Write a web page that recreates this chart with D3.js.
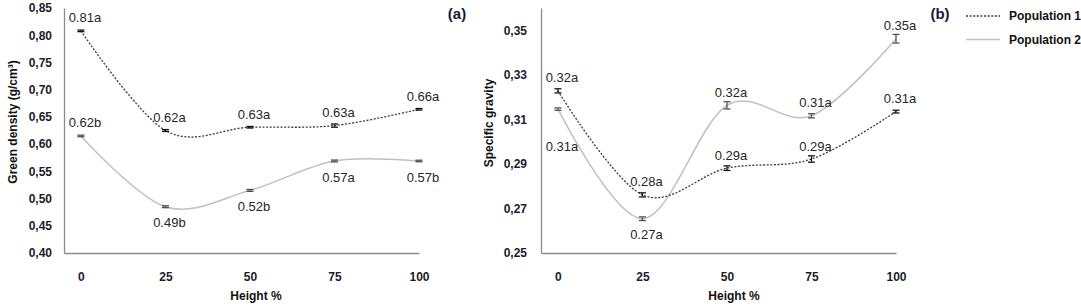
<!DOCTYPE html>
<html lang="en">
<head>
<meta charset="utf-8">
<script src="https://d3js.org/d3.v7.min.js"></script>
<style>
  body { margin: 0; background: #fff; }
  svg text { font-family: "Liberation Sans", Arial, sans-serif; }
</style>
</head>
<body>
<div id="chart"></div>
<script>
// ---- data ----
const heights = [0, 25, 50, 75, 100];

// panel (a) green density (g/cm3)
const densityPop1 = [0.808, 0.625, 0.631, 0.634, 0.664];
const densityPop1Err = [0.0005, 0.0008, 0.0005, 0.002, 0.0005];
const densityPop1Labels = ["0.81a", "0.62a", "0.63a", "0.63a", "0.66a"];
const densityPop2 = [0.615, 0.485, 0.515, 0.569, 0.569];
const densityPop2Err = [0.0005, 0.0008, 0.0008, 0.0008, 0.0005];
const densityPop2Labels = ["0.62b", "0.49b", "0.52b", "0.57a", "0.57b"];
const densityPop2Place = ["above", "below", "below", "below", "below"];
const densityTicks = [0.40, 0.45, 0.50, 0.55, 0.60, 0.65, 0.70, 0.75, 0.80, 0.85];

// panel (b) specific gravity
const gravityPop1 = [0.3228, 0.2761, 0.2881, 0.2922, 0.3135];
const gravityPop1Err = [0.0007, 0.0007, 0.0008, 0.0012, 0.0004];
const gravityPop1Labels = ["0.32a", "0.28a", "0.29a", "0.29a", "0.31a"];
const gravityPop2 = [0.3146, 0.2654, 0.3163, 0.3116, 0.3462];
const gravityPop2Err = [0.0003, 0.0006, 0.0014, 0.0007, 0.0017];
const gravityPop2Labels = ["0.31a", "0.27a", "0.32a", "0.31a", "0.35a"];
const gravityPop2Place = ["lower", "below", "above", "above", "above"];
const gravityTicks = [0.25, 0.27, 0.29, 0.31, 0.33, 0.35];

const seriesNames = ["Population 1", "Population 2"];

// ---- layout ----
const W = 1081, H = 307;
const svg = d3.select("#chart").append("svg")
  .attr("width", W).attr("height", H);

const fmt = d => d3.format(".2f")(d).replace(".", ",");

function panel(opt) {
  const x = d3.scaleLinear().domain([-5, 100]).range([opt.x0, opt.x1]);
  const y = d3.scaleLinear().domain(opt.yDomain).range([253, 8]);

  const g = svg.append("g");

  // axes
  const ax = g.append("g")
    .attr("transform", "translate(" + opt.x0 + ",0)")
    .call(d3.axisLeft(y).tickValues(opt.ticks).tickFormat(fmt).tickSize(0).tickSizeOuter(0).tickPadding(opt.pad));
  const bx = g.append("g")
    .attr("transform", "translate(0,253)")
    .call(d3.axisBottom(x).tickValues(heights).tickFormat(d3.format("d")).tickSize(0).tickSizeOuter(0).tickPadding(19));
  [ax, bx].forEach(a => {
    a.select(".domain").attr("stroke", "#8c8c8c").attr("stroke-width", 1.3);
    a.selectAll("text").attr("fill", "#1c1c2a").style("font-size", "12px").style("font-weight", "bold");
  });

  // axis titles
  g.append("text")
    .attr("x", opt.titleX).attr("y", 300)
    .attr("text-anchor", "middle")
    .style("font-size", "12px").style("font-weight", "bold").attr("fill", "#111")
    .text("Height %");
  g.append("text")
    .attr("transform", "translate(" + opt.yTitleX + "," + opt.yTitleY + ") rotate(-90)")
    .attr("text-anchor", "middle")
    .style("font-size", "12px").style("font-weight", "bold").attr("fill", "#111")
    .text(opt.yTitle);

  // panel letter
  g.append("text")
    .attr("x", opt.letterX).attr("y", 19)
    .attr("text-anchor", "middle")
    .style("font-size", "15px").style("font-weight", "bold").attr("fill", "#1a1a33")
    .text(opt.letter);

  const line = d3.line()
    .x((d, i) => x(heights[i]))
    .y(d => y(d))
    .curve(d3.curveCatmullRom.alpha(0));

  const series = [
    { v: opt.p2, e: opt.e2, lab: opt.l2, place: opt.place2, stroke: "#c0c0c0", dash: null, bar: "#505050" },
    { v: opt.p1, e: opt.e1, lab: opt.l1, place: heights.map(() => "above"), stroke: "#3a3a3a", dash: "2,1.6", bar: "#111" }
  ];

  series.forEach(s => {
    g.append("path")
      .datum(s.v)
      .attr("fill", "none")
      .attr("stroke", s.stroke)
      .attr("stroke-width", s.dash ? 1.3 : 1.5)
      .attr("stroke-dasharray", s.dash)
      .attr("d", line);

    // error bars
    const eb = g.selectAll(null).data(s.v).enter().append("g")
      .attr("stroke", s.bar).attr("stroke-width", 1.3);
    eb.append("line")
      .attr("x1", (d, i) => x(heights[i])).attr("x2", (d, i) => x(heights[i]))
      .attr("y1", (d, i) => y(d - s.e[i])).attr("y2", (d, i) => y(d + s.e[i]));
    eb.append("line")
      .attr("x1", (d, i) => x(heights[i]) - 3.5).attr("x2", (d, i) => x(heights[i]) + 3.5)
      .attr("y1", (d, i) => y(d - s.e[i]) + 0.5).attr("y2", (d, i) => y(d - s.e[i]) + 0.5);
    eb.append("line")
      .attr("x1", (d, i) => x(heights[i]) - 3.5).attr("x2", (d, i) => x(heights[i]) + 3.5)
      .attr("y1", (d, i) => y(d + s.e[i]) - 0.5).attr("y2", (d, i) => y(d + s.e[i]) - 0.5);

    // value labels
    g.selectAll(null).data(s.v).enter().append("text")
      .attr("x", (d, i) => x(heights[i]) + 4)
      .attr("y", (d, i) => {
        const p = s.place[i];
        const off = p === "above" ? -13 : p === "below" ? 16 : 37;
        return y(d) + off;
      })
      .attr("dy", "0.35em")
      .attr("text-anchor", "middle")
      .style("font-size", "13px").attr("fill", "#262626")
      .text((d, i) => s.lab[i]);
  });
}

panel({
  x0: 64, x1: 419, yDomain: [0.40, 0.85], ticks: densityTicks, pad: 12,
  p1: densityPop1, e1: densityPop1Err, l1: densityPop1Labels,
  p2: densityPop2, e2: densityPop2Err, l2: densityPop2Labels, place2: densityPop2Place,
  titleX: 256, yTitle: "Green density  (g/cm³)", yTitleX: 17, yTitleY: 122,
  letter: "(a)", letterX: 457
});

panel({
  x0: 541, x1: 896, yDomain: [0.25, 0.36], ticks: gravityTicks, pad: 14,
  p1: gravityPop1, e1: gravityPop1Err, l1: gravityPop1Labels,
  p2: gravityPop2, e2: gravityPop2Err, l2: gravityPop2Labels, place2: gravityPop2Place,
  titleX: 734, yTitle: "Specific gravity", yTitleX: 493, yTitleY: 123,
  letter: "(b)", letterX: 940
});

// legend
const legend = svg.append("g").attr("transform", "translate(966,0)");
seriesNames.forEach((name, i) => {
  const yy = 16 + i * 23.5;
  legend.append("line")
    .attr("x1", 0).attr("x2", 34).attr("y1", yy).attr("y2", yy)
    .attr("stroke", i === 0 ? "#3a3a3a" : "#c0c0c0")
    .attr("stroke-width", i === 0 ? 1.3 : 1.5)
    .attr("stroke-dasharray", i === 0 ? "2,1.6" : null);
  legend.append("text")
    .attr("x", 43).attr("y", yy).attr("dy", "0.35em")
    .style("font-size", "12px").style("font-weight", "bold").attr("fill", "#111")
    .text(name);
});
</script>
</body>
</html>
